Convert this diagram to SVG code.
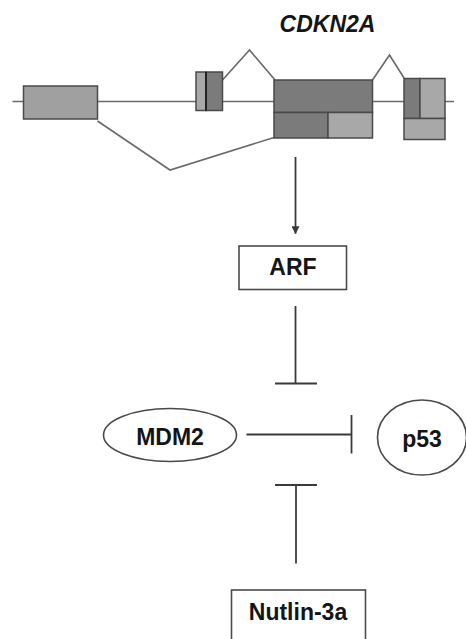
<svg xmlns="http://www.w3.org/2000/svg" width="466" height="639" viewBox="0 0 466 639">
  <defs>
    <style>
      .lbl { font-family: "Liberation Sans", Arial, sans-serif; font-weight: bold; font-size: 23px; fill: #151515; text-anchor: middle; }
      .gene { font-style: italic; }
      .exon { stroke: #4a4a4a; stroke-width: 1.5; }
      .dark { fill: #7b7b7b; }
      .light { fill: #a8a8a8; }
      .intron { fill: none; stroke: #6a6a6a; stroke-width: 1.6; }
      .edge { fill: none; stroke: #3a3a3a; stroke-width: 1.8; }
      .node { fill: #ffffff; stroke: #4a4a4a; stroke-width: 1.6; }
    </style>
    <marker id="arrow" viewBox="0 0 10 10" refX="9" refY="5" markerWidth="8" markerHeight="8" markerUnits="userSpaceOnUse" orient="auto">
      <path d="M0,0 L10,5 L0,10 z" fill="#3a3a3a"/>
    </marker>
  </defs>
  <rect width="466" height="639" fill="#ffffff"/>

  <!-- gene model -->
  <g id="gene-CDKN2A">
    <text class="lbl gene" x="327.5" y="32">CDKN2A</text>
    <line class="intron" x1="12.5" y1="101.5" x2="454" y2="101.5"/>
    <!-- splice connections -->
    <polyline class="intron" points="222.5,80 249.5,50 275,80"/>
    <polyline class="intron" points="372.5,80 389.5,55 404,78"/>
    <polyline class="intron" points="97.5,121 170,170 274,137.5"/>
    <!-- exon 1 -->
    <rect class="exon light" x="23.5" y="86" width="74" height="33" style="fill:#a0a0a0"/>
    <!-- exon 1 beta -->
    <rect class="exon light" x="196" y="72" width="10" height="38.5"/>
    <rect class="exon dark" x="206" y="72" width="16.5" height="38.5"/>
    <line x1="206" y1="72" x2="206" y2="110.5" stroke="#222" stroke-width="2"/>
    <!-- exon 2 -->
    <rect class="exon dark" x="274" y="80" width="98.5" height="32.5"/>
    <rect class="exon dark" x="274" y="112.5" width="54" height="25.5"/>
    <rect class="exon light" x="328" y="112.5" width="44.5" height="25.5"/>
    <!-- exon 3 -->
    <rect class="exon dark" x="404" y="78.5" width="16" height="40"/>
    <rect class="exon light" x="420" y="78.5" width="25" height="40"/>
    <rect class="exon light" x="404" y="118.5" width="41" height="21"/>
  </g>

  <!-- pathway nodes -->
  <g id="node-ARF">
    <rect class="node" x="239" y="246" width="107.5" height="43.5"/>
    <text class="lbl" x="293" y="274.5">ARF</text>
  </g>
  <g id="node-MDM2">
    <ellipse class="node" cx="170" cy="435" rx="66.5" ry="26.5"/>
    <text class="lbl" x="170" y="445">MDM2</text>
  </g>
  <g id="node-p53">
    <ellipse class="node" cx="422" cy="437.5" rx="44.5" ry="37.5"/>
    <text class="lbl" x="422" y="447">p53</text>
  </g>
  <g id="node-Nutlin-3a">
    <rect class="node" x="231.5" y="590" width="134" height="50"/>
    <text class="lbl" x="298" y="620">Nutlin-3a</text>
  </g>

  <!-- connectors -->
  <g id="connectors">
    <line class="edge" x1="295.5" y1="157" x2="295.5" y2="233.5" marker-end="url(#arrow)"/>
    <line class="edge" x1="295.5" y1="306" x2="295.5" y2="383.5"/>
    <line class="edge" x1="275" y1="383.5" x2="317" y2="383.5"/>
    <line class="edge" x1="246.5" y1="434.5" x2="351.5" y2="434.5"/>
    <line class="edge" x1="351.5" y1="415" x2="351.5" y2="453.5"/>
    <line class="edge" x1="296" y1="485" x2="296" y2="563.5"/>
    <line class="edge" x1="275" y1="485" x2="317" y2="485"/>
  </g>
</svg>
